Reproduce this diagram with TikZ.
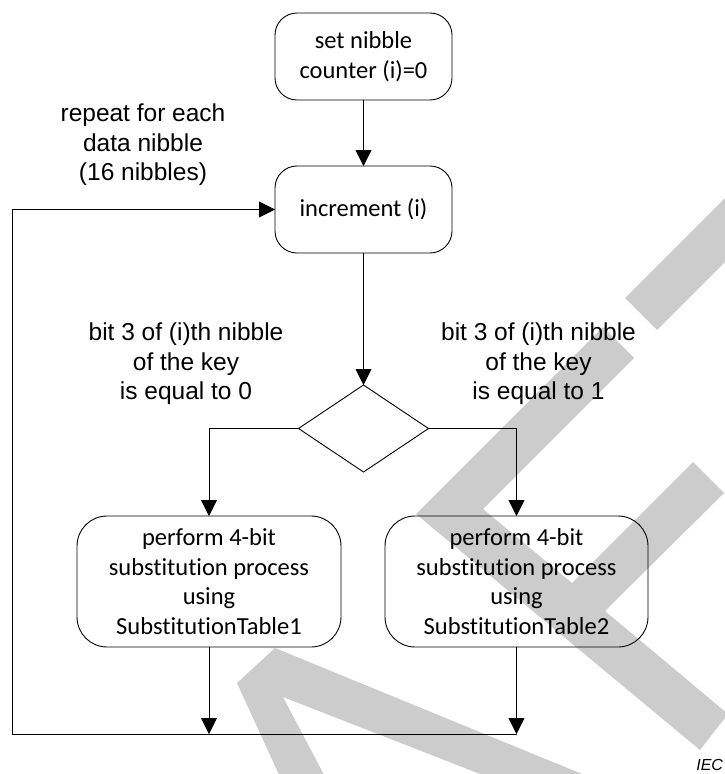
\documentclass[tikz,border=0pt]{standalone}
\usepackage{fontspec}
\setmainfont{Liberation Sans}
\newfontfamily\calfont[Ligatures=NoCommon]{Carlito}
\newfontfamily\arialfont{Liberation Sans}
\usetikzlibrary{arrows.meta,shapes.geometric}
\begin{document}
\begin{tikzpicture}[x=1pt,y=-1pt,
  every node/.style={inner sep=0pt,outer sep=0pt},
  stepbox/.style={draw,line width=0.9pt,rounded corners=22pt,
    minimum width=177pt,minimum height=87pt,align=center,
    font=\calfont\fontsize{24.5}{29.5}\selectfont},
  procbox/.style={stepbox,rounded corners=30pt,
    minimum width=264pt,minimum height=131pt},
  decision/.style={draw,line width=0.9pt,diamond,
    minimum width=130pt,minimum height=87pt},
  note/.style={align=center,font=\arialfont\fontsize{24.5}{29.5}\selectfont},
  flow/.style={draw,line width=0.9pt},
  arr/.style={flow,-{Triangle[length=16pt,width=16pt]}},
  wmark/.style={fill=black!20,draw=none},
]
\useasboundingbox (0,0) rectangle (725,774);
\clip (0,0) rectangle (725,774);

% background watermark strokes
\fill[wmark] (625,298) -- (760,163) -- (760,227) -- (657,330) -- cycle;
\fill[wmark] (603,327) -- (634,358) -- (483,509) -- (572,583) -- (693,462)
  -- (724,493) -- (605,611) -- (728,714) -- (700,750) -- (416,514) -- cycle;
\fill[wmark] (237,683) -- (275,648) -- (621,790) -- (521,790) -- (283,697)
  -- (332,790) -- (286,790) -- cycle;

% process steps
\node[stepbox] (init) at (363.5,56.5) {set nibble\\counter (i)=0};
\node[stepbox] (inc) at (363.5,209.5) {increment (i)};
\node[decision] (dec) at (363.5,428.5) {};
\node[procbox] (subA) at (209,581.5)
  {perform 4-bit\\substitution process\\using\\SubstitutionTable1};
\node[procbox,minimum width=263pt] (subB) at (516.5,581.5)
  {perform 4-bit\\substitution process\\using\\SubstitutionTable2};

\coordinate (joinA) at (209,734);
\coordinate (joinB) at (516.5,734);
\coordinate (loopL) at (12,734);

% annotations
\node[note] (repeat) at (143,145) {repeat for each\\data nibble\\(16 nibbles)};
\node[note] (zero) at (186,364) {bit 3 of (i)th nibble\\of the key\\is equal to 0};
\node[note] (one) at (538.5,364) {bit 3 of (i)th nibble\\of the key\\is equal to 1};
\node[anchor=base east,font=\arialfont\itshape\fontsize{16}{16}\selectfont] (iec) at (723,770) {IEC};

% connectors
\draw[arr] (init) -- (inc);
\draw[arr] (inc) -- (dec);
\draw[arr] (dec.west) -| (subA.north);
\draw[arr] (dec.east) -| (subB.north);
\draw[arr] (subA.south) -- (joinA);
\draw[arr] (subB.south) -- (joinB);
\draw[arr] (joinB) -- (loopL) |- (inc.west);
\end{tikzpicture}
\end{document}
